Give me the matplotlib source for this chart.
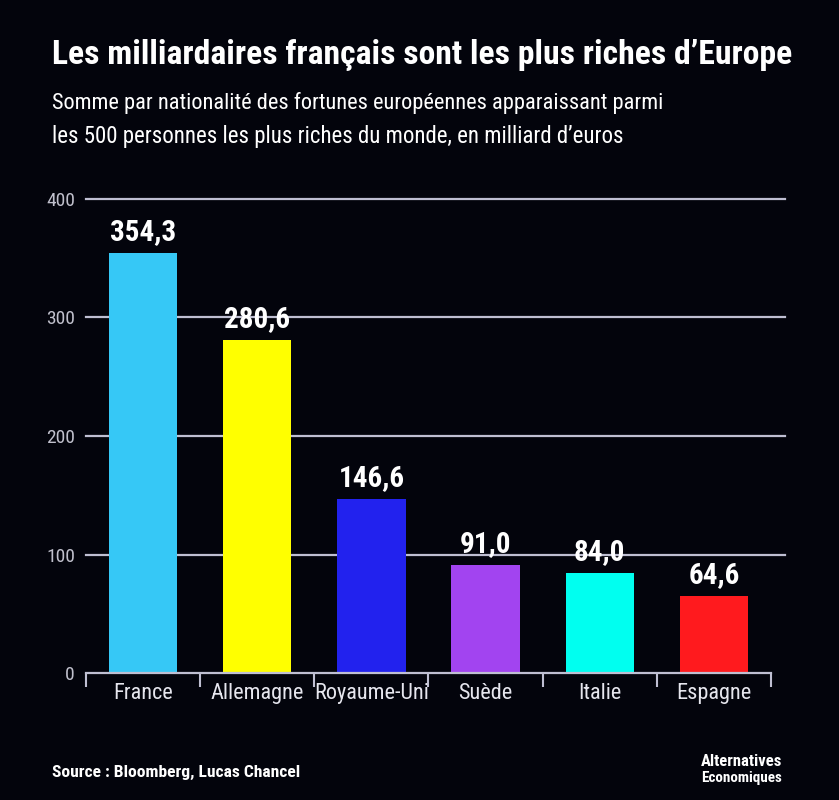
import matplotlib
matplotlib.use("Agg")
import matplotlib.pyplot as plt
from matplotlib import font_manager as fm

countries = ["France", "Allemagne", "Royaume-Uni", "Suède", "Italie", "Espagne"]
values = [354.3, 280.6, 146.6, 91.0, 84.0, 64.6]
value_labels = ["354,3", "280,6", "146,6", "91,0", "84,0", "64,6"]
colors = ["#36c8f6", "#ffff00", "#2222ee", "#a244f0", "#00fff0", "#ff1a1e"]
yticks = [0, 100, 200, 300, 400]

names = {f.name for f in fm.fontManager.ttflist}
FONT = "DejaVu Sans"
for cand in ["Roboto Condensed", "Fira Sans Condensed", "Open Sans Condensed",
             "PT Sans Narrow", "Barlow Condensed", "Liberation Sans Narrow"]:
    if cand in names:
        FONT = cand
        break
plt.rcParams["font.family"] = [FONT, "DejaVu Sans"]

W, H = 839, 800
BG = "#03040c"
fig = plt.figure(figsize=(W/100, H/100), dpi=100, facecolor=BG)
ax = fig.add_axes([86/W, 1-673/H, 685/W, (673-175.3)/H], facecolor=BG)
renderer = fig.canvas.get_renderer()


def fit_text(x0, yc, s, target_w, size0, **kw):
    t = fig.text(x0/W, 1-yc/H, s, fontsize=size0, va="center", **kw)
    w = t.get_window_extent(renderer).width
    t.set_fontsize(size0*target_w/w)
    return t


x = list(range(len(countries)))
ax.set_xlim(-0.5, len(countries)-0.5)
ax.set_ylim(0, 420)

for t in yticks[1:]:
    ax.plot([-0.5, 5.62], [t, t], color="#bfbfd2", lw=1.6, clip_on=False, zorder=1)

ax.bar(x, values, width=0.6, color=colors, zorder=2)
for xi, v, lab in zip(x, values, value_labels):
    ax.annotate(lab, (xi, v), xytext=(0, 5), textcoords="offset points",
                ha="center", va="bottom", color="white",
                fontsize=21, fontweight="bold", zorder=3)

for s in ["top", "right", "left"]:
    ax.spines[s].set_visible(False)
ax.spines["bottom"].set_color("#bfbfd2")
ax.spines["bottom"].set_linewidth(1.6)

ax.set_yticks(yticks)
ax.set_yticklabels([str(t) for t in yticks], color="#c0c0cc", fontsize=14)
ax.tick_params(axis="y", length=0, pad=8)

ax.set_xticks([i - 0.5 for i in range(len(countries)+1)], minor=False)
ax.set_xticklabels([""] * (len(countries)+1))
ax.tick_params(axis="x", which="major", length=10, width=1.5, color="#bfbfd2", direction="out")
ax.set_xticks(x, minor=True)
ax.set_xticklabels(countries, minor=True, color="#e6e6ee", fontsize=16)
ax.tick_params(axis="x", which="minor", length=0, pad=7)

fit_text(52, 55, "Les milliardaires français sont les plus riches d’Europe", 738, 28,
         color="white", fontweight="bold", ha="left")
fit_text(52, 103, "Somme par nationalité des fortunes européennes apparaissant parmi", 610, 19,
         color="white", ha="left")
fit_text(52, 137, "les 500 personnes les plus riches du monde, en milliard d’euros", 571, 19,
         color="white", ha="left")
fit_text(52, 772, "Source : Bloomberg, Lucas Chancel", 247, 16,
         color="white", fontweight="bold", ha="left")
fit_text(701, 762, "Alternatives", 81, 13, color="white", fontweight="bold", ha="left")
fit_text(701, 778, "Economiques", 81, 12, color="white", fontweight="bold", ha="left")

fig.savefig("out.png", dpi=100, facecolor=BG)
